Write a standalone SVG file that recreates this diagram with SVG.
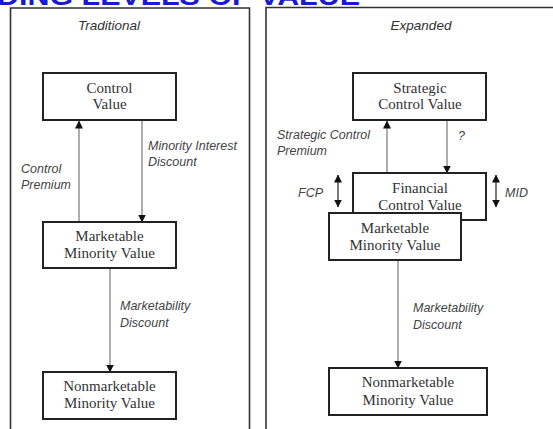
<svg xmlns="http://www.w3.org/2000/svg" width="553" height="429" viewBox="0 0 553 429">
<defs>
<marker id="ah" markerWidth="8" markerHeight="9" refX="7.5" refY="4" orient="auto" markerUnits="userSpaceOnUse">
<path d="M0,0 L8,4 L0,8 Z" fill="#111"/>
</marker>
<marker id="as" markerWidth="8" markerHeight="9" refX="0.5" refY="4" orient="auto" markerUnits="userSpaceOnUse">
<path d="M8,0 L0,4 L8,8 Z" fill="#111"/>
</marker>
<style>
.panel{fill:none;stroke:#333;stroke-width:1.6}
.box{fill:#fff;stroke:#222;stroke-width:2}
.nt{font-family:"Liberation Serif",serif;font-size:15px;fill:#333;text-anchor:middle}
.lb{font-family:"Liberation Sans",Arial,sans-serif;font-size:12.5px;font-style:italic;fill:#444}
.hd{font-family:"Liberation Sans",Arial,sans-serif;font-size:13.5px;font-style:italic;fill:#333;text-anchor:middle}
.cn{stroke:#777;stroke-width:1.2;fill:none;marker-end:url(#ah)}
.db{stroke:#222;stroke-width:1.2;fill:none;marker-end:url(#ah);marker-start:url(#as)}
</style>
</defs>
<rect width="553" height="429" fill="#fff"/>
<text x="-3" y="5" font-family="Liberation Sans,Arial,sans-serif" font-weight="bold" font-size="26" fill="#1a1ad0" textLength="363" lengthAdjust="spacingAndGlyphs">DING LEVELS OF VALUE</text>
<path class="panel" d="M10.5,432 V8 H249.5 V432"/>
<path class="panel" d="M266,432 V7.5 H556"/>
<text class="hd" x="109" y="30">Traditional</text>
<text class="hd" x="421" y="30">Expanded</text>
<g id="connectors">
<line class="cn" x1="79" y1="222" x2="79" y2="121"/>
<line class="cn" x1="142" y1="121" x2="142" y2="222"/>
<line class="cn" x1="110" y1="268" x2="110" y2="372"/>
<line class="cn" x1="387" y1="173" x2="387" y2="121"/>
<line class="cn" x1="447" y1="121" x2="447" y2="173"/>
<line class="cn" x1="398" y1="260" x2="398" y2="368"/>
<line class="db" x1="338" y1="175" x2="338" y2="207"/>
<line class="db" x1="496" y1="175" x2="496" y2="207"/>
<text class="lb" x="148" y="150">Minority Interest</text>
<text class="lb" x="148" y="166">Discount</text>
<text class="lb" x="21" y="173">Control</text>
<text class="lb" x="21" y="189">Premium</text>
<text class="lb" x="120" y="310">Marketability</text>
<text class="lb" x="120" y="327">Discount</text>
<text class="lb" x="277" y="139">Strategic Control</text>
<text class="lb" x="277" y="155">Premium</text>
<text class="lb" x="458" y="140">?</text>
<text class="lb" x="298" y="197">FCP</text>
<text class="lb" x="505" y="197">MID</text>
<text class="lb" x="413" y="312">Marketability</text>
<text class="lb" x="413" y="329">Discount</text>
</g>
<g id="control-value">
<rect class="box" x="43" y="73" width="133" height="47"/>
<text class="nt" x="109.5" y="93">Control</text>
<text class="nt" x="109.5" y="109">Value</text>
</g>
<g id="marketable-left">
<rect class="box" x="43" y="222" width="133" height="46"/>
<text class="nt" x="109.5" y="241">Marketable</text>
<text class="nt" x="109.5" y="258">Minority Value</text>
</g>
<g id="nonmarketable-left">
<rect class="box" x="43" y="372" width="133" height="47"/>
<text class="nt" x="109.5" y="391">Nonmarketable</text>
<text class="nt" x="109.5" y="408">Minority Value</text>
</g>
<g id="strategic-control">
<rect class="box" x="353" y="73" width="133" height="47"/>
<text class="nt" x="420" y="93">Strategic</text>
<text class="nt" x="420" y="109">Control Value</text>
</g>
<g id="financial-control">
<rect class="box" x="353" y="173" width="133" height="47"/>
<text class="nt" x="420" y="193">Financial</text>
<text class="nt" x="420" y="210">Control Value</text>
</g>
<g id="marketable-right">
<rect class="box" x="329" y="213" width="132" height="47"/>
<text class="nt" x="395" y="233">Marketable</text>
<text class="nt" x="395" y="250">Minority Value</text>
</g>
<g id="nonmarketable-right">
<rect class="box" x="329" y="368" width="158" height="47"/>
<text class="nt" x="408" y="387">Nonmarketable</text>
<text class="nt" x="408" y="405">Minority Value</text>
</g>
</svg>
